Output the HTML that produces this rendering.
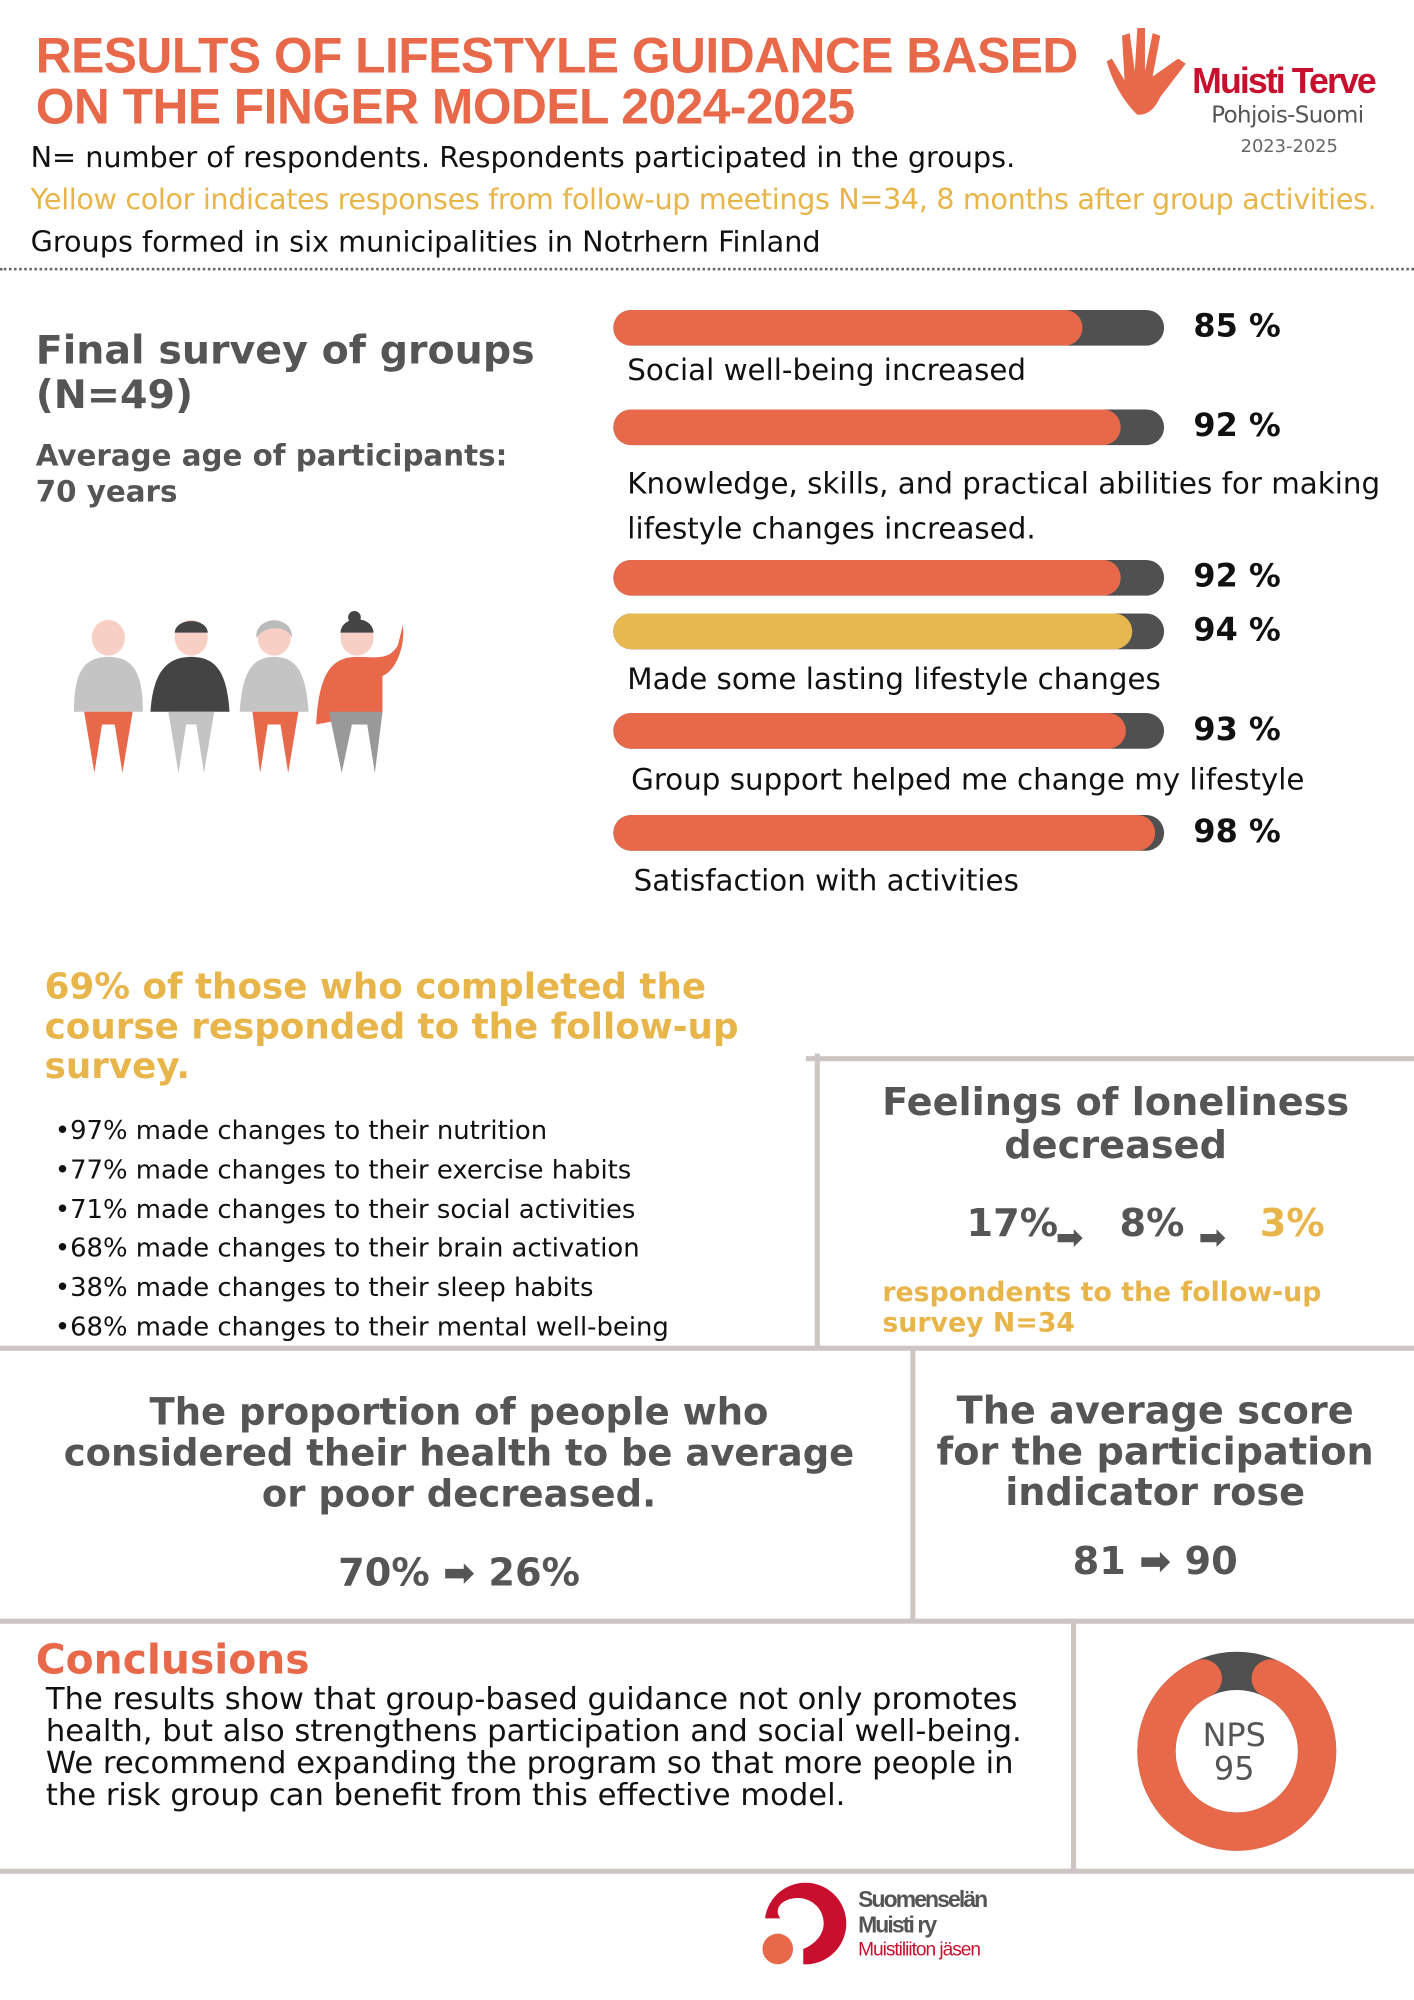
<!DOCTYPE html>
<html><head><meta charset="utf-8"><style>
html,body{margin:0;padding:0;background:#fff;}
body{width:1414px;height:2000px;overflow:hidden;position:relative;}
#w{position:absolute;left:0;top:0;width:1109px;height:1568px;transform:scale(1.27502,1.27551);transform-origin:0 0;font-family:"DejaVu Sans","Liberation Sans",sans-serif;}
.t{position:absolute;white-space:nowrap;line-height:1;}
.b{font-weight:bold;}
.bar{position:absolute;left:481px;width:432px;height:28px;border-radius:14px;background:#505050;overflow:hidden;}
.bar i{position:absolute;left:0;top:0;bottom:0;border-radius:14px;background:#E8684A;}
.pct{position:absolute;left:936px;font-weight:bold;font-size:25px;color:#111;line-height:1;}
.lbl{position:absolute;left:492px;font-size:23px;color:#111;line-height:1;white-space:nowrap;}
.ln{position:absolute;background:#cdc5c3;}
.g{color:#555;}
.c{text-align:center;white-space:normal;}
</style></head><body><div id="w">
<div class="t b" style="left:28px;top:25px;font-size:39px;color:#E8684A;letter-spacing:-0.4px;line-height:40px;font-family:'Liberation Sans',sans-serif;">RESULTS OF LIFESTYLE GUIDANCE BASED<br>ON THE FINGER MODEL 2024-2025</div>
<svg style="position:absolute;left:862px;top:18px" width="80" height="78" viewBox="0 0 80 78">
<path d="M30 72 C18 60 10 45 6 30 L10 28 L20 45 L18 10 L24 8 L28 38 L30 4 L36 4 L36 38 L42 8 L48 10 L42 42 L62 28 L68 32 L48 58 C44 66 40 72 30 72Z" fill="#E8684A"/></svg>
<div class="t b" style="left:935px;top:50px;font-size:28px;color:#C8102E;letter-spacing:-1.5px;font-family:'Liberation Sans',sans-serif;">Muisti Terve</div>
<div class="t" style="left:950px;top:82px;font-size:18px;color:#555;letter-spacing:-0.5px;">Pohjois-Suomi</div>
<div class="t" style="left:973px;top:108px;font-size:14px;color:#666;">2023-2025</div>
<div class="t" style="left:24px;top:113px;font-size:22.5px;color:#111;">N= number of respondents. Respondents participated in the groups.</div>
<div class="t" style="left:24px;top:146px;font-size:22.5px;color:#E8B54A;letter-spacing:-0.3px;">Yellow color indicates responses from follow-up meetings N=34, 8 months after group activities.</div>
<div class="t" style="left:24px;top:179px;font-size:22.5px;color:#111;">Groups formed in six municipalities in Notrhern Finland</div>
<div style="position:absolute;left:0;top:210px;width:1109px;border-top:2px dotted #666;"></div>

<div class="t b g" style="left:28px;top:258px;font-size:31px;line-height:35px;">Final survey of groups<br>(N=49)</div>
<div class="t b g" style="left:28px;top:344px;font-size:23px;line-height:28px;">Average age of participants:<br>70 years</div>

<div class="bar" style="top:243px"><i style="width:368px"></i></div><div class="pct" style="top:243px">85 %</div>
<div class="lbl" style="top:280px">Social well-being increased</div>
<div class="bar" style="top:321px"><i style="width:398px"></i></div><div class="pct" style="top:321px">92 %</div>
<div class="lbl" style="top:363px;line-height:35px;">Knowledge, skills, and practical abilities for making<br>lifestyle changes increased.</div>
<div class="bar" style="top:439px"><i style="width:398px"></i></div><div class="pct" style="top:439px">92 %</div>
<div class="bar" style="top:481px"><i style="width:407px;background:#E8B850"></i></div><div class="pct" style="top:481px">94 %</div>
<div class="lbl" style="top:522px">Made some lasting lifestyle changes</div>
<div class="bar" style="top:559px"><i style="width:402px"></i></div><div class="pct" style="top:559px">93 %</div>
<div class="lbl" style="top:601px;left:495px">Group support helped me change my lifestyle</div>
<div class="bar" style="top:639px"><i style="width:425px"></i></div><div class="pct" style="top:639px">98 %</div>
<div class="lbl" style="top:680px;left:497px">Satisfaction with activities</div>

<svg style="position:absolute;left:50px;top:478px" width="270" height="130" viewBox="0 0 270 130">
<g><ellipse cx="35" cy="22" rx="13" ry="14" fill="#F7CFC4"/><path d="M8 80 C8 50 15 37 35 37 C55 37 62 50 62 80Z" fill="#c4c4c4"/><path d="M16 80 L54 80 L46 128 L40 90 L30 90 L24 128Z" fill="#E8684A"/></g>
<g><ellipse cx="100" cy="22" rx="13" ry="14" fill="#F7CFC4"/><path d="M87 18 C88 6 112 6 113 18Z" fill="#444"/><path d="M68 80 C70 50 80 37 100 37 C120 37 128 50 130 80Z" fill="#444"/><path d="M82 80 L118 80 L110 128 L104 90 L96 90 L90 128Z" fill="#c4c4c4"/></g>
<g><ellipse cx="165" cy="22" rx="13" ry="14" fill="#F7CFC4"/><path d="M151 22 C150 4 180 4 179 22 C175 12 158 12 151 22Z" fill="#bbb"/><path d="M138 80 C140 50 147 37 165 37 C183 37 190 50 192 80Z" fill="#c4c4c4"/><path d="M148 80 L184 80 L176 128 L170 90 L160 90 L154 128Z" fill="#E8684A"/></g>
<g><ellipse cx="230" cy="22" rx="13" ry="14" fill="#F7CFC4"/><path d="M217 18 C218 4 242 4 243 18Z" fill="#444"/><circle cx="228" cy="6" r="5" fill="#444"/><path d="M198 90 C200 50 210 37 230 37 C245 37 255 40 262 28 L266 12 C268 30 260 48 250 52 L250 80Z" fill="#E8684A"/><path d="M208 80 L250 80 L244 128 L238 90 L226 90 L218 128Z" fill="#999"/></g>
</svg>

<div class="t b" style="left:35px;top:758px;font-size:28px;line-height:31px;color:#E8B54A;">69% of those who completed the<br>course responded to the follow-up<br>survey.</div>
<div class="t" style="left:43px;top:871px;font-size:20.3px;line-height:30.8px;color:#111;">•97% made changes to their nutrition<br>•77% made changes to their exercise habits<br>•71% made changes to their social activities<br>•68% made changes to their brain activation<br>•38% made changes to their sleep habits<br>•68% made changes to their mental well-being</div>

<div class="ln" style="left:639px;top:826px;width:4px;height:230px"></div>
<div class="ln" style="left:632px;top:828px;width:477px;height:4px"></div>
<div class="ln" style="left:0;top:1055px;width:1109px;height:4px"></div>
<div class="ln" style="left:714px;top:1057px;width:4px;height:214px"></div>
<div class="ln" style="left:0;top:1269px;width:1109px;height:4px"></div>
<div class="ln" style="left:840px;top:1271px;width:4px;height:196px"></div>
<div class="ln" style="left:0;top:1465px;width:1109px;height:4px"></div>

<div class="t b g c" style="left:645px;top:848px;width:460px;font-size:30px;line-height:34px;">Feelings of loneliness<br>decreased</div>
<div class="t b g" style="left:758px;top:945px;font-size:30px;">17%</div>
<div class="t b g" style="left:828px;top:958px;font-size:26px;">➡</div>
<div class="t b g" style="left:878px;top:945px;font-size:30px;">8%</div>
<div class="t b g" style="left:940px;top:958px;font-size:26px;">➡</div>
<div class="t b" style="left:988px;top:945px;font-size:30px;color:#E8B54A;">3%</div>
<div class="t b" style="left:692px;top:1001px;font-size:21px;line-height:24px;color:#E8B54A;">respondents to the follow-up<br>survey N=34</div>

<div class="t b g c" style="left:0;top:1091px;width:720px;font-size:29px;line-height:32px;">The proportion of people who<br>considered their health to be average<br>or poor decreased.</div>
<div class="t b g c" style="left:0;top:1219px;width:720px;font-size:30px;">70% ➡ 26%</div>
<div class="t b g c" style="left:718px;top:1091px;width:376px;font-size:30px;line-height:32px;">The average score<br>for the participation<br>indicator rose</div>
<div class="t b g c" style="left:718px;top:1210px;width:376px;font-size:30px;">81 ➡ 90</div>

<div class="t b" style="left:28px;top:1285px;font-size:32px;color:#E8684A;">Conclusions</div>
<div class="t" style="left:36px;top:1320px;font-size:24px;line-height:25px;color:#111;">The results show that group-based guidance not only promotes<br>health, but also strengthens participation and social well-being.<br>We recommend expanding the program so that more people in<br>the risk group can benefit from this effective model.</div>

<svg style="position:absolute;left:880px;top:1285px" width="180" height="180" viewBox="0 0 180 180">
<circle cx="90" cy="88" r="63" fill="none" stroke="#505050" stroke-width="30"/>
<path d="M116.6 30.9 A63 63 0 1 1 63.4 30.9" fill="none" stroke="#E8684A" stroke-width="30" stroke-linecap="round"/>
<text x="88" y="84" text-anchor="middle" font-family="DejaVu Sans,sans-serif" font-size="25" fill="#555">NPS</text>
<text x="88" y="110" text-anchor="middle" font-family="DejaVu Sans,sans-serif" font-size="25" fill="#555">95</text>
</svg>

<svg style="position:absolute;left:596px;top:1474px" width="70" height="70" viewBox="0 0 70 70">
<path d="M4 30 A32 32 0 1 1 34 66 L34 54 C44 50 50 42 50 34 C50 22 40 14 30 14 C18 14 10 22 16 30Z" fill="#C8102E"/>
<circle cx="14" cy="54" r="12" fill="#E8684A"/></svg>
<div class="t b" style="left:673px;top:1479px;font-size:18px;line-height:20px;color:#555;letter-spacing:-1.5px;font-family:'Liberation Sans',sans-serif;">Suomenselän<br>Muisti ry</div>
<div class="t" style="left:673px;top:1521px;font-size:15px;color:#C8102E;letter-spacing:-0.8px;font-family:'Liberation Sans',sans-serif;">Muistiliiton jäsen</div>
</div></body></html>
